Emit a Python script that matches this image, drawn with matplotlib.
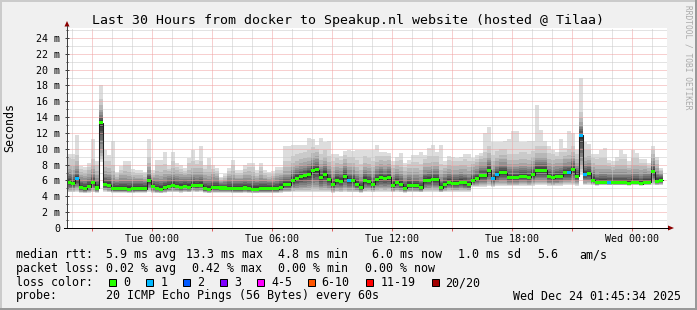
import datetime as dt
import matplotlib
matplotlib.use("Agg")
import matplotlib.pyplot as plt
import matplotlib.dates as mdates
from matplotlib.lines import Line2D
from matplotlib.patches import Polygon, Rectangle
from matplotlib.ticker import MultipleLocator, FuncFormatter
import numpy as np

plt.rcParams["font.family"] = "DejaVu Sans Mono"

W, H = 697, 310

# one value per 12 minute step, window starts Mon 22 Dec 19:45:34
start = dt.datetime(2025, 12, 22, 19, 45, 34)
step = dt.timedelta(minutes=12)

# median rtt (ms)
median = [5.8, 5.65, 6.2, 5.1, 4.95, 5.2, 5.75, 5.05, 13.3, 5.5,
          5.4, 4.95, 4.95, 4.95, 4.95, 4.9, 4.95, 4.95, 4.95, 4.95,
          6.0, 5.2, 5.0, 4.9, 5.1, 5.25, 5.4, 5.25, 5.15, 5.25,
          5.15, 5.4, 5.35, 5.4, 4.95, 4.9, 5.1, 5.1, 5.05, 5.05,
          5.0, 4.95, 4.95, 4.95, 5.05, 4.95, 4.9, 4.9, 4.95, 4.95,
          4.95, 4.95, 4.95, 5.15, 5.45, 5.45, 6.05, 6.3, 6.5, 6.6,
          6.8, 7.25, 7.35, 6.4, 6.8, 6.15, 5.5, 6.05, 5.9, 6.55,
          6.0, 6.0, 5.55, 5.1, 6.05, 5.85, 5.5, 6.15, 6.4, 6.2,
          6.4, 5.4, 5.8, 5.55, 5.0, 5.4, 5.35, 5.35, 5.1, 6.0,
          6.05, 6.15, 6.15, 5.1, 5.5, 5.8, 5.65, 5.65, 5.8, 5.7,
          5.5, 6.0, 6.2, 6.6, 6.6, 7.3, 6.2, 6.7, 7.0, 7.0,
          6.4, 6.4, 6.4, 6.55, 6.55, 6.4, 6.75, 7.3, 7.3, 7.3,
          6.5, 6.35, 6.5, 6.55, 6.95, 7.0, 7.4, 6.55, 11.7, 6.8,
          6.9, 6.05, 5.7, 5.8, 5.8, 5.75, 5.75, 5.75, 5.75, 5.75,
          5.65, 5.8, 5.8, 5.6, 5.8, 5.8, 7.1, 5.9, 6.05]

# slowest ping per step (ms)
smoke_hi = [9.4, 9.4, 11.7, 7.8, 7.7, 8.2, 11.2, 8.5, 18.0, 9.85,
            9.2, 11.0, 7.1, 7.8, 8.5, 8.5, 7.4, 7.3, 7.3, 7.1,
            11.2, 7.3, 8.6, 8.6, 9.6, 7.9, 9.6, 8.2, 7.9, 7.6,
            8.8, 9.8, 8.6, 10.4, 7.9, 8.8, 7.9, 7.6, 6.5, 6.8,
            7.6, 8.6, 7.3, 7.3, 7.9, 8.2, 8.2, 7.3, 8.2, 7.3,
            7.1, 7.2, 7.7, 7.7, 10.3, 10.3, 10.5, 10.5, 10.5, 10.5,
            11.35, 11.2, 10.5, 11.35, 10.9, 11.0, 9.35, 9.35, 9.1, 9.7,
            9.8, 9.7, 9.8, 9.8, 9.9, 9.9, 9.9, 10.5, 9.6, 9.6,
            9.5, 8.4, 9.0, 9.5, 8.2, 8.6, 9.2, 9.2, 9.6, 9.2,
            10.1, 10.5, 9.6, 10.5, 8.4, 9.1, 9.0, 8.9, 9.0, 9.4,
            9.35, 8.9, 9.2, 9.5, 11.95, 12.8, 10.9, 10.8, 10.8, 11.0,
            11.2, 12.2, 12.2, 10.8, 10.8, 11.0, 11.0, 15.5, 12.4, 11.0,
            10.3, 9.85, 9.6, 11.2, 10.1, 12.2, 11.95, 9.85, 19.0, 10.8,
            10.6, 9.35, 9.35, 9.85, 10.1, 8.6, 8.4, 9.0, 9.8, 9.35,
            8.4, 9.85, 9.5, 8.7, 8.7, 8.2, 10.4, 9.0, 7.6]

# fastest ping per step (ms)
smoke_lo = [4.5, 4.5, 4.6, 4.45, 4.4, 4.45, 4.5, 4.45, 8.3, 4.6,
            4.5, 4.45, 4.45, 4.45, 4.45, 4.45, 4.4, 4.45, 4.45, 4.45,
            4.6, 4.45, 4.4, 4.4, 4.45, 4.5, 4.5, 4.5, 4.45, 4.5,
            4.5, 4.55, 4.5, 4.55, 4.45, 4.4, 4.45, 4.45, 4.45, 4.45,
            4.45, 4.4, 4.4, 4.4, 4.45, 4.4, 4.4, 4.4, 4.4, 4.4,
            4.4, 4.4, 4.4, 4.45, 4.5, 4.5, 4.5, 4.5, 4.5, 4.5,
            4.5, 4.5, 4.5, 4.5, 4.5, 4.5, 4.45, 4.5, 4.5, 4.5,
            4.5, 4.5, 4.5, 4.45, 4.5, 4.55, 4.5, 4.6, 4.6, 4.6,
            4.6, 4.5, 4.55, 4.5, 4.45, 4.5, 4.5, 4.5, 4.5, 4.6,
            4.6, 4.6, 4.6, 4.5, 4.55, 4.6, 4.6, 4.6, 4.6, 4.6,
            4.6, 5.2, 5.2, 5.2, 5.2, 5.3, 5.2, 5.3, 5.3, 5.3,
            5.3, 5.3, 5.3, 5.35, 5.35, 5.3, 5.35, 5.4, 5.4, 5.4,
            5.35, 5.3, 5.35, 5.35, 5.4, 5.4, 5.4, 5.35, 6.7, 5.4,
            5.4, 5.4, 5.35, 5.4, 5.4, 5.4, 5.4, 5.4, 5.4, 5.4,
            5.35, 5.4, 5.4, 5.35, 5.4, 5.4, 5.4, 5.4, 5.4]

# steps where one of the 20 pings was lost
lost_one = [2, 70, 106, 107, 125, 128, 129, 135]

loss_labels = ["0", "1", "2", "3", "4-5", "6-10", "11-19", "20/20"]
loss_colors = ["#26ff00", "#00b8ff", "#0059ff", "#7e00ff",
               "#ff00ff", "#ff5500", "#ff0000", "#a10000"]


def fx(x):
    return x / W


def fy(y):
    return 1 - y / H


fig = plt.figure(figsize=(W / 100, H / 100), dpi=100, facecolor="#f0f0f0")
ax = fig.add_axes([fx(67), fy(228), 600 / W, 200 / H], facecolor="white")

med = np.array(median)
hi = np.array(smoke_hi)
lo = np.array(smoke_lo)
n = len(med)
edges = mdates.date2num([start + i * step for i in range(n + 1)])
width = edges[1] - edges[0]


def ext(a):
    return np.append(a, a[-1])


# smoke: 10 nested layers, lightest outside, darkest round the median
up_frac = [1, .85, .72, .6, .5, .4, .32, .24, .16, .08]
up_cap = [99, 3.0, 2.2, 1.7, 1.3, 1.0, .75, .55, .35, .18]
dn_frac = [1, .93, .85, .76, .66, .55, .44, .32, .2, .1]
for k in range(10):
    g = int(190 / 10 * (9 - k)) + 50
    top = med + np.minimum((hi - med) * up_frac[k], up_cap[k])
    bot = med - (med - lo) * dn_frac[k]
    ax.fill_between(edges, ext(bot), ext(top), step="post",
                    color="#%02x%02x%02x" % (g, g, g), lw=0, zorder=1)

ax.step(edges, ext(med), where="post", color="#202020", lw=0.75, zorder=3)

band = 0.19
cols = [loss_colors[1] if i in lost_one else loss_colors[0] for i in range(n)]
ax.bar(edges[:-1], 2 * band, bottom=med - band, width=width, align="edge",
       color=cols, lw=0, zorder=4)

# axes, ticks, grid
ax.set_xlim(edges[0], mdates.date2num(start + dt.timedelta(hours=30)))
ax.set_ylim(0, 25.25)
ax.xaxis.set_major_locator(mdates.HourLocator(byhour=range(0, 24, 3)))
ax.xaxis.set_minor_locator(mdates.HourLocator())


def xfmt(v, pos):
    d = mdates.num2date(v)
    return d.strftime("%a %H:%M") if d.hour % 6 == 0 else ""


ax.xaxis.set_major_formatter(FuncFormatter(xfmt))
ax.yaxis.set_major_locator(MultipleLocator(2))
ax.yaxis.set_minor_locator(MultipleLocator(1))
ax.yaxis.set_major_formatter(FuncFormatter(lambda v, p: "0" if v == 0 else "%d m" % v))

ax.set_axisbelow(False)
ax.grid(which="major", color="#f0a0a0", linestyle=(0, (1, 1)), lw=0.72)
ax.grid(which="minor", color="#c8c8c8", linestyle=(0, (1, 1)), lw=0.72)
for s in ax.spines.values():
    s.set_visible(False)

ax.tick_params(axis="y", which="major", direction="inout", length=3, width=0.72,
               color="#404040", pad=3.5, labelsize=7.2)
ax.tick_params(axis="y", which="minor", direction="inout", length=2, width=0.72,
               color="#404040")
ax.tick_params(axis="x", which="major", direction="out", length=2, width=0.72,
               color="#e06060", pad=2.5, labelsize=7.2)
ax.tick_params(axis="x", which="minor", length=0)

# axis lines with arrows
fig.add_artist(Line2D([fx(67), fx(67)], [fy(228), fy(26)], color="#404040",
                      lw=0.72, transform=fig.transFigure))
fig.add_artist(Line2D([fx(64), fx(668)], [fy(228), fy(228)], color="black",
                      lw=0.72, transform=fig.transFigure))
fig.add_artist(Polygon([(fx(64.5), fy(26.5)), (fx(69.5), fy(26.5)), (fx(67), fy(21))],
                       closed=True, color="#8b0000", lw=0, transform=fig.transFigure))
fig.add_artist(Polygon([(fx(668), fy(225.5)), (fx(668), fy(230.5)), (fx(674), fy(228))],
                       closed=True, color="#8b0000", lw=0, transform=fig.transFigure))

# border shading
fig.add_artist(Rectangle((0, fy(2)), 1, 2 / H, color="#cbcbcb", lw=0, transform=fig.transFigure))
fig.add_artist(Rectangle((0, 0), 2 / W, 1, color="#cbcbcb", lw=0, transform=fig.transFigure))
fig.add_artist(Rectangle((0, 0), 1, 2 / H, color="#999999", lw=0, transform=fig.transFigure))
fig.add_artist(Rectangle((fx(695), 0), 2 / W, 1, color="#999999", lw=0, transform=fig.transFigure))

# titles
fig.text(fx(348.5), fy(24), "Last 30 Hours from docker to Speakup.nl website (hosted @ Tilaa)",
         ha="center", va="baseline", fontsize=9.55)
fig.text(fx(9.5), fy(128), "Seconds", rotation=90, ha="center", va="center", fontsize=8.4)
fig.text(fx(688), fy(57), "RRDTOOL / TOBI OETIKER", rotation=270, ha="center",
         va="center", fontsize=5.7, color="#aaaaaa")

# legend
rows = [
    (258, [(15.5, "median rtt:"), (106.5, "5.9 ms avg"), (186, "13.3 ms max"),
           (278.5, "4.8 ms min"), (372, "6.0 ms now"), (458.5, "1.0 ms sd"),
           (537, "5.6"), (579, "am/s")]),
    (272, [(15.5, "packet loss:"), (106.5, "0.02 % avg"), (192.5, "0.42 % max"),
           (278.5, "0.00 % min"), (365, "0.00 % now")]),
    (286, [(15.5, "loss color:")]),
    (299.5, [(15.5, "probe:"), (106.5, "20 ICMP Echo Pings (56 Bytes) every 60s"),
             (513, "Wed Dec 24 01:45:34 2025")]),
]
for y, items in rows:
    for x, s in items:
        fig.text(fx(x), fy(y), s, ha="left", va="baseline", fontsize=8.4)

sq_x = [109, 146, 183, 220, 257, 307.5, 365.5, 431.5]
lab_x = [123, 160.5, 197.5, 234, 271.5, 321.5, 380.5, 445.5]
for sx, lx, lab, c in zip(sq_x, lab_x, loss_labels, loss_colors):
    fig.add_artist(Rectangle((fx(sx), fy(285.5)), 7 / W, 7 / H, facecolor=c,
                             edgecolor="black", lw=0.72, transform=fig.transFigure))
    fig.text(fx(lx), fy(286), lab, ha="left", va="baseline", fontsize=8.4)

fig.savefig("out.png", dpi=100, facecolor=fig.get_facecolor())
